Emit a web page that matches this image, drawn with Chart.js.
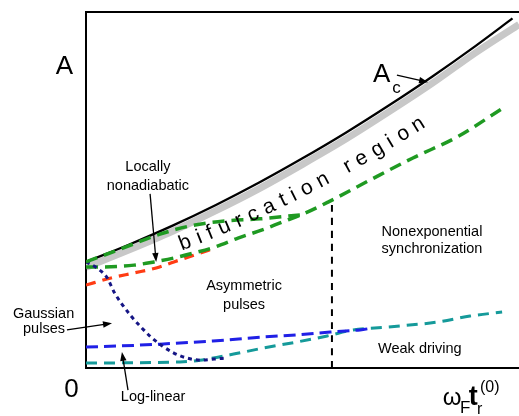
<!DOCTYPE html>
<html>
<head>
<meta charset="utf-8">
<script src="https://cdn.jsdelivr.net/npm/chart.js@4.4.1/dist/chart.umd.min.js"></script>
<style>
  html, body { margin: 0; padding: 0; background: #fff; }
  canvas { display: block; }
</style>
</head>
<body>
<canvas id="c" width="519" height="416"></canvas>
<script>
// schematic units: x = forcing parameter, y = amplitude A (both 0..10)
const acX = [0, 1, 2, 3, 4, 5, 6, 7, 8, 9, 9.85];
const acY = [2.98, 3.47, 4.00, 4.58, 5.21, 5.89, 6.61, 7.38, 8.19, 9.05, 9.82];
const bandX = [0, 1, 2, 3, 4, 5, 6, 7, 8, 9, 10];
const bandY = [2.83, 3.32, 3.84, 4.42, 5.04, 5.72, 6.43, 7.20, 8.00, 8.86, 9.65];

const upperGreenX = [0, 0.79, 1.71, 2.40, 3.21, 4.02, 4.94];
const upperGreenY = [2.98, 3.34, 3.76, 3.99, 4.13, 4.19, 4.30];
const greenX = [0, 0.42, 1.11, 1.57, 2.03, 2.49, 2.98, 3.51, 4.07, 4.53, 5.06, 5.59, 6.56, 7.55, 8.57, 9.63];
const greenY = [2.84, 2.84, 2.89, 2.98, 3.09, 3.23, 3.40, 3.65, 3.88, 4.10, 4.35, 4.66, 5.28, 5.90, 6.49, 7.30];
const redX = [0, 0.58, 1.11, 1.62, 2.03, 2.49, 2.98];
const redY = [2.33, 2.53, 2.67, 2.81, 2.98, 3.17, 3.37];
const navyX = [0, 0.25, 0.49, 0.65, 0.81, 1.04, 1.27, 1.50, 1.76, 2.03, 2.33, 2.66, 2.96, 3.23];
const navyY = [2.98, 2.81, 2.53, 2.13, 1.83, 1.46, 1.15, 0.87, 0.62, 0.42, 0.28, 0.22, 0.25, 0.28];
const blueX = [0, 0.79, 1.71, 2.93, 4.09, 4.87, 5.64, 6.33, 6.61];
const blueY = [0.59, 0.62, 0.67, 0.76, 0.87, 0.93, 1.01, 1.07, 1.12];
const tealX = [0, 2.17, 2.63, 3.33, 4.09, 4.87, 5.57, 6.17, 6.95, 8.11, 8.87, 9.61];
const tealY = [0.14, 0.17, 0.22, 0.37, 0.56, 0.73, 0.90, 1.07, 1.15, 1.29, 1.46, 1.57];
const boundaryX = [5.68, 5.68];
const boundaryY = [0, 4.72];

const FONT = '"Liberation Sans", Arial, sans-serif';

// region labels, x = centre, y = baseline (data units)
const notes = [
  { t: 'Locally', x: 1.43, y: 5.53 },
  { t: 'nonadiabatic', x: 1.43, y: 5.00 },
  { t: 'Asymmetric', x: 3.65, y: 2.18 },
  { t: 'pulses', x: 3.65, y: 1.67 },
  { t: 'Nonexponential', x: 7.99, y: 3.72 },
  { t: 'synchronization', x: 7.99, y: 3.23 },
  { t: 'Weak driving', x: 7.71, y: 0.41 },
  { t: 'Gaussian', x: -0.98, y: 1.40 },
  { t: 'pulses', x: -0.97, y: 0.97 },
  { t: 'Log-linear', x: 1.55, y: -0.94 }
];
const arrows = [
  [1.48, 4.89, 1.62, 2.98],
  [-0.44, 1.07, 0.60, 1.26],
  [0.97, -0.62, 0.83, 0.45],
  [7.18, 8.23, 7.90, 8.03]
];

function pts(xs, ys) {
  return xs.map((v, i) => ({ x: v, y: ys[i] }));
}
function curve(xs, ys, color, width, dash, order) {
  return {
    data: pts(xs, ys),
    borderColor: color,
    borderWidth: width,
    borderDash: dash,
    borderCapStyle: 'butt',
    pointRadius: 0,
    cubicInterpolationMode: 'monotone',
    fill: false,
    order: order
  };
}

function textAlong(ctx, str, p0, p1, p2) {
  const N = 400;
  const samples = [];
  let len = 0, prev = null;
  for (let i = 0; i <= N; i++) {
    const t = i / N, u = 1 - t;
    const x = u * u * p0[0] + 2 * u * t * p1[0] + t * t * p2[0];
    const y = u * u * p0[1] + 2 * u * t * p1[1] + t * t * p2[1];
    if (prev) len += Math.hypot(x - prev[0], y - prev[1]);
    const dx = 2 * u * (p1[0] - p0[0]) + 2 * t * (p2[0] - p1[0]);
    const dy = 2 * u * (p1[1] - p0[1]) + 2 * t * (p2[1] - p1[1]);
    samples.push({ x, y, len, a: Math.atan2(dy, dx) });
    prev = [x, y];
  }
  const chars = [...str];
  const w = chars.map(c => ctx.measureText(c).width);
  let inner = w[0] / 2 + w[w.length - 1] / 2;
  for (let i = 1; i < w.length - 1; i++) inner += w[i];
  const sp = (len - inner) / (chars.length - 1);
  let s = 0, k = 0;
  chars.forEach((c, i) => {
    if (i > 0) s += w[i - 1] / 2 + sp + w[i] / 2;
    while (k < samples.length - 1 && samples[k].len < s) k++;
    const p = samples[k];
    ctx.save();
    ctx.translate(p.x, p.y);
    ctx.rotate(p.a);
    ctx.fillText(c, 0, 0);
    ctx.restore();
  });
}

const annotate = {
  id: 'annotate',
  afterDatasetsDraw(chart) {
    const { ctx, scales: { x, y } } = chart;
    const X = v => x.getPixelForValue(v);
    const Y = v => y.getPixelForValue(v);
    ctx.save();
    ctx.fillStyle = '#000';
    ctx.strokeStyle = '#000';

    ctx.font = '14.5px ' + FONT;
    ctx.textAlign = 'center';
    ctx.textBaseline = 'alphabetic';
    notes.forEach(n => ctx.fillText(n.t, X(n.x), Y(n.y)));

    // arrows
    ctx.lineWidth = 1.3;
    arrows.forEach(a => {
      const x1 = X(a[0]), y1 = Y(a[1]), x2 = X(a[2]), y2 = Y(a[3]);
      const ang = Math.atan2(y2 - y1, x2 - x1);
      ctx.beginPath();
      ctx.moveTo(x1, y1);
      ctx.lineTo(x2 - 6 * Math.cos(ang), y2 - 6 * Math.sin(ang));
      ctx.stroke();
      ctx.beginPath();
      ctx.moveTo(x2, y2);
      ctx.lineTo(x2 - 9 * Math.cos(ang) + 3.2 * Math.sin(ang), y2 - 9 * Math.sin(ang) - 3.2 * Math.cos(ang));
      ctx.lineTo(x2 - 9 * Math.cos(ang) - 3.2 * Math.sin(ang), y2 - 9 * Math.sin(ang) + 3.2 * Math.cos(ang));
      ctx.closePath();
      ctx.fill();
    });

    // axis letters
    ctx.font = '26px ' + FONT;
    ctx.fillText('A', X(-0.5), Y(8.26));
    ctx.fillText('0', X(-0.335), Y(-0.815));

    ctx.textAlign = 'left';
    ctx.fillText('A', X(6.63), Y(8.03));
    ctx.font = '17px ' + FONT;
    ctx.fillText('c', X(7.07), Y(7.72));

    // x label  omega_F t_r^(0)
    ctx.font = '24px ' + FONT;
    ctx.fillText('\u03c9', X(8.24), Y(-1.04));
    ctx.font = '17px ' + FONT;
    ctx.fillText('F', X(8.64), Y(-1.26));
    ctx.font = 'bold 27px ' + FONT;
    ctx.fillText('t', X(8.84), Y(-1.04));
    ctx.font = '16px ' + FONT;
    ctx.fillText('(0)', X(9.10), Y(-0.67));
    ctx.fillText('r', X(9.03), Y(-1.28));

    // curved region name
    ctx.font = '21px ' + FONT;
    ctx.textAlign = 'center';
    ctx.textBaseline = 'middle';
    textAlong(ctx, 'bifurcation region',
      [X(2.29), Y(3.51)], [X(4.90), Y(4.72)], [X(7.67), Y(6.83)]);
    ctx.restore();
  }
};

const axisStyle = {
  type: 'linear',
  min: 0,
  max: 10,
  ticks: { display: false },
  grid: { display: false, drawTicks: false },
  border: { display: true, color: '#000', width: 2 }
};

new Chart(document.getElementById('c'), {
  type: 'line',
  data: {
    datasets: [
      curve(bandX, bandY, '#c8c8c8', 7, [], 10),
      curve(acX, acY, '#000000', 2.3, [], 5),
      curve(redX, redY, '#ff3c14', 3.2, [10, 7], 4),
      curve(greenX, greenY, '#1f9a22', 3.5, [12, 7], 3),
      curve(upperGreenX, upperGreenY, '#1f9a22', 3.5, [12, 7], 1),
      curve(tealX, tealY, '#159a9a', 3, [11, 7], 4),
      curve(blueX, blueY, '#2020e6', 3, [12, 6], 3),
      curve(navyX, navyY, '#151585', 3, [4, 4], 2),
      curve(boundaryX, boundaryY, '#000000', 2, [7, 6], 2)
    ]
  },
  options: {
    responsive: false,
    animation: false,
    devicePixelRatio: 1,
    layout: { padding: { left: 86, right: 0, top: 12, bottom: 48 } },
    scales: {
      x: Object.assign({ position: 'bottom' }, axisStyle),
      y: Object.assign({ position: 'left' }, axisStyle),
      top: Object.assign({ position: 'top', axis: 'x' }, axisStyle)
    },
    plugins: {
      legend: { display: false },
      tooltip: { enabled: false }
    }
  },
  plugins: [annotate]
});
</script>
</body>
</html>
